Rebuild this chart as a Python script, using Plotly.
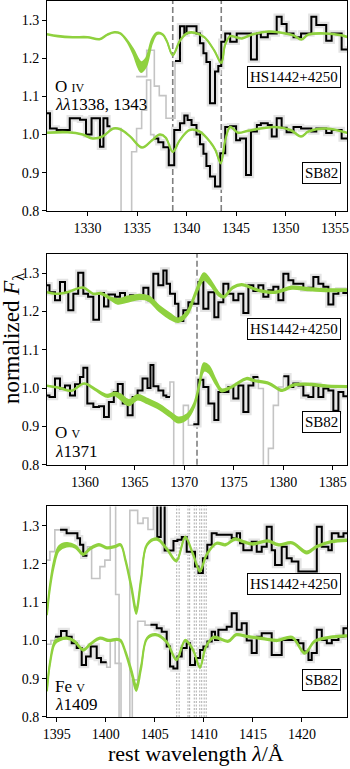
import plotly.graph_objects as go

FONT = "Liberation Serif"
GREEN = "#8fd13f"
BAND = "#e4e4e4"
MASKED = "#c4c4c4"

# ---------------- panel 1 : O IV 1338, 1343 ----------------
p1_xrange = [1325.9, 1356.2]
p1_xticks = [1330, 1335, 1340, 1345, 1350, 1355]
p1_lines = [1338.6, 1343.5]

p1_hs_edges = [1334.9, 1335.97, 1336.74, 1337.24, 1337.92, 1338.83, 1339.33, 1339.77, 1340.0, 1341.0,
               1341.35, 1341.7, 1342.0, 1342.36, 1342.87, 1343.2, 1343.5, 1343.9, 1344.4, 1345.06,
               1346.5, 1347.1, 1347.5, 1348.2, 1349.1, 1349.6, 1350.1, 1350.8, 1351.56, 1352.6,
               1353.1, 1354.1, 1354.65, 1355.66, 1356.3]
p1_hs_flux = [1.152, 1.221, 1.127, 1.102, 1.043, 1.193, 1.284, 1.265, 1.284, 1.265,
              1.239, 1.213, 1.19, 1.082, 1.165, 1.18, 1.243, 1.265, 1.243, 1.265,
              1.197, 1.265, 1.255, 1.265, 1.309, 1.29, 1.265, 1.255, 1.265, 1.309,
              1.287, 1.246, 1.265, 1.223]
p1_hs_masked = [(1334.9, 1338.83)]

p1_sb_edges = [1325.9, 1326.2, 1326.88, 1328.2, 1329.23, 1329.84, 1330.4, 1331.25, 1331.6, 1332.0,
               1332.3, 1333.38, 1334.45, 1334.95, 1335.46, 1335.96, 1336.37, 1336.7, 1337.14, 1337.65,
               1338.2, 1338.75, 1339.33, 1339.77, 1340.1, 1340.5, 1341.0, 1341.35, 1341.7, 1342.0,
               1342.36, 1342.87, 1343.4, 1343.9, 1344.4, 1345.0, 1345.4, 1346.0, 1346.5, 1347.1,
               1347.5, 1348.2, 1348.6, 1349.1, 1349.6, 1350.1, 1350.8, 1351.56, 1352.6, 1353.1,
               1354.1, 1354.65, 1355.66, 1356.3]
p1_sb_flux = [1.056, 1.016, 1.012, 1.043, 1.039, 1.0, 1.043, 0.968, 1.043, 1.022,
              1.016, 0.7, 0.955, 1.016, 1.064, 1.143, 1.0, 0.99, 0.98, 0.967,
              0.92, 1.012, 1.03, 1.05, 1.038, 1.025, 1.0, 0.975, 0.95, 0.918,
              0.89, 0.864, 0.951, 1.02, 1.022, 0.985, 0.99, 0.894, 1.008, 1.025,
              1.03, 1.025, 0.995, 1.043, 1.018, 1.006, 1.02, 1.016, 1.008, 1.016,
              1.004, 1.012, 0.99]
p1_sb_masked = [(1332.3, 1336.7)]

p1_hs_model_wave = [1325.9, 1327.0, 1328.5, 1330.0, 1331.2, 1332.0, 1332.7, 1333.3, 1334.0, 1334.6,
                    1335.4, 1335.9, 1336.5, 1337.0, 1337.6, 1338.0, 1338.6, 1339.3, 1340.0, 1340.8,
                    1341.8, 1342.8, 1343.5, 1343.9, 1344.4, 1345.0, 1345.6, 1346.6, 1348.3, 1350.0,
                    1350.8, 1351.6, 1352.3, 1354.0, 1355.6, 1356.3]
p1_hs_model = [1.263, 1.258, 1.255, 1.255, 1.25, 1.262, 1.268, 1.265, 1.245, 1.218,
               1.177, 1.189, 1.244, 1.265, 1.262, 1.245, 1.208, 1.245, 1.265, 1.267,
               1.255, 1.22, 1.188, 1.236, 1.258, 1.255, 1.252, 1.262, 1.27, 1.265,
               1.26, 1.249, 1.262, 1.265, 1.26, 1.255]
p1_hs_spread = [0.001, 0.001, 0.001, 0.001, 0.001, 0.001, 0.001, 0.001, 0.002, 0.006,
                0.013, 0.011, 0.006, 0.002, 0.001, 0.001, 0.001, 0.001, 0.001, 0.001,
                0.001, 0.001, 0.001, 0.001, 0.001, 0.001, 0.001, 0.001, 0.001, 0.001,
                0.001, 0.001, 0.001, 0.001, 0.001, 0.001]

p1_sb_model_wave = [1325.9, 1328.0, 1329.5, 1330.5, 1331.5, 1332.6, 1333.3, 1334.3, 1335.5, 1336.5,
                    1337.3, 1337.9, 1338.6, 1339.3, 1340.3, 1341.3, 1342.4, 1342.9, 1343.45, 1343.9,
                    1344.4, 1345.2, 1346.2, 1348.9, 1350.5, 1351.56, 1352.3, 1354.0, 1356.3]
p1_sb_model = [1.005, 1.006, 1.0, 0.99, 0.995, 1.016, 1.014, 0.995, 0.966, 0.985,
               1.0, 0.992, 0.955, 0.985, 1.012, 1.008, 0.98, 0.96, 0.925, 0.985,
               1.02, 1.005, 1.01, 1.02, 1.012, 0.995, 1.008, 1.016, 1.004]
p1_sb_spread = [0.001] * 29

# ---------------- panel 2 : O V 1371 ----------------
p2_xrange = [1356.15, 1386.45]
p2_xticks = [1360, 1365, 1370, 1375, 1380, 1385]
p2_lines = [1371.3]

p2_hs_edges = [1356.15, 1356.4, 1356.96, 1357.46, 1357.97, 1358.3, 1358.81, 1359.3, 1359.82, 1360.3,
               1360.83, 1361.4, 1361.91, 1362.35, 1363.02, 1363.52, 1364.03, 1364.53, 1364.87, 1365.38,
               1365.88, 1366.39, 1366.89, 1367.39, 1367.9, 1368.23, 1368.57, 1369.08, 1369.42, 1369.92,
               1370.43, 1370.93, 1371.44, 1371.94, 1372.45, 1373.05, 1373.46, 1373.96, 1374.47, 1374.97,
               1375.48, 1375.98, 1376.49, 1376.99, 1377.5, 1378.0, 1378.51, 1379.01, 1379.52, 1380.02,
               1380.53, 1381.03, 1381.54, 1382.04, 1382.55, 1383.05, 1383.56, 1384.06, 1384.57, 1385.07,
               1385.58, 1386.08, 1386.5]
p2_hs_flux = [1.268, 1.25, 1.229, 1.277, 1.25, 1.203, 1.246, 1.301, 1.246, 1.238,
              1.178, 1.248, 1.213, 1.244, 1.238, 1.248, 1.236, 1.242, 1.233, 1.238,
              1.262, 1.229, 1.298, 1.268, 1.307, 1.272, 1.246, 1.22, 1.175, 1.203,
              1.224, 1.22, 1.277, 1.207, 1.25, 1.185, 1.224, 1.272, 1.246, 1.229,
              1.246, 1.196, 1.268, 1.253, 1.268, 1.238, 1.255, 1.264, 1.229, 1.298,
              1.281, 1.272, 1.272, 1.259, 1.262, 1.29, 1.272, 1.264, 1.218, 1.246,
              1.255, 1.248]
p2_hs_masked = []

p2_sb_edges = [1356.15, 1356.4, 1356.96, 1357.46, 1357.97, 1358.47, 1358.98, 1359.48, 1359.82, 1360.22,
               1360.83, 1361.4, 1361.91, 1362.4, 1362.9, 1363.3, 1363.8, 1364.3, 1364.8, 1365.3,
               1365.8, 1366.3, 1366.6, 1366.9, 1367.4, 1367.9, 1368.2, 1368.57, 1368.95, 1369.92,
               1370.43, 1370.93, 1371.44, 1371.94, 1372.45, 1373.05, 1373.46, 1373.96, 1374.47, 1374.97,
               1375.48, 1375.98, 1376.49, 1376.99, 1377.5, 1378.0, 1378.51, 1379.01, 1379.52, 1380.02,
               1380.53, 1381.03, 1381.54, 1382.04, 1382.55, 1383.05, 1383.56, 1384.06, 1384.57, 1385.07,
               1385.58, 1386.08, 1386.5]
p2_sb_flux = [0.981, 0.977, 1.025, 0.999, 1.007, 0.981, 1.01, 1.029, 1.053, 0.96,
              0.951, 0.953, 0.925, 0.964, 0.99, 1.011, 0.96, 0.929, 0.977, 0.994,
              1.025, 1.0, 1.06, 1.005, 0.994, 0.981, 0.977, 1.016, 0.7, 0.955,
              0.903, 0.906, 1.022, 1.003, 0.96, 0.917, 0.99, 0.99, 1.003, 0.973,
              1.007, 0.938, 1.007, 1.029, 0.999, 0.7, 0.843, 0.955, 1.003, 1.031,
              1.003, 1.012, 1.007, 0.981, 0.977, 1.007, 0.977, 0.999, 0.994, 0.941,
              0.99, 0.979]
p2_sb_masked = [(1368.57, 1370.93), (1377.5, 1380.02)]

p2_hs_model_wave = [1356.15, 1357.0, 1358.2, 1359.8, 1360.8, 1361.6, 1362.6, 1363.3, 1364.3, 1365.5,
                    1366.4, 1367.5, 1368.6, 1369.4, 1370.3, 1371.2, 1372.0, 1372.6, 1373.5, 1374.0,
                    1374.9, 1375.8, 1377.5, 1379.2, 1380.9, 1382.5, 1384.6, 1386.5]
p2_hs_model = [1.25, 1.246, 1.25, 1.262, 1.246, 1.247, 1.233, 1.226, 1.232, 1.238,
               1.234, 1.207, 1.187, 1.177, 1.195, 1.25, 1.291, 1.277, 1.245, 1.238,
               1.262, 1.27, 1.255, 1.25, 1.262, 1.258, 1.255, 1.256]
p2_hs_spread = [0.001, 0.001, 0.001, 0.001, 0.001, 0.002, 0.003, 0.006, 0.007, 0.006,
                0.006, 0.007, 0.007, 0.005, 0.005, 0.005, 0.009, 0.007, 0.004, 0.002,
                0.002, 0.002, 0.002, 0.002, 0.003, 0.003, 0.003, 0.002]

p2_sb_model_wave = [1356.15, 1357.5, 1358.6, 1359.9, 1361.0, 1362.2, 1363.0, 1363.6, 1364.4, 1365.3,
                    1366.3, 1367.5, 1368.6, 1369.4, 1370.3, 1371.0, 1371.5, 1372.0, 1372.5, 1373.2,
                    1373.8, 1374.8, 1376.3, 1377.0, 1378.6, 1379.9, 1381.0, 1382.5, 1384.5, 1386.5]
p2_sb_model = [1.006, 1.0, 0.993, 1.012, 0.997, 0.98, 0.985, 0.977, 0.962, 0.976,
               0.966, 0.951, 0.931, 0.917, 0.926, 0.955, 1.005, 1.055, 1.049, 1.016,
               0.994, 1.003, 1.025, 1.02, 1.012, 0.994, 1.008, 1.01, 1.005, 1.004]
p2_sb_spread = [0.001, 0.001, 0.001, 0.001, 0.002, 0.003, 0.004, 0.007, 0.007, 0.006,
                0.006, 0.006, 0.006, 0.007, 0.006, 0.005, 0.005, 0.01, 0.009, 0.006,
                0.003, 0.002, 0.002, 0.002, 0.002, 0.002, 0.002, 0.002, 0.002, 0.002]

# ---------------- panel 3 : Fe V 1409 ----------------
p3_xrange = [1394.0, 1424.6]
p3_xticks = [1395, 1400, 1405, 1410, 1415, 1420]
p3_lines = [1407.23, 1407.48, 1408.38, 1408.55, 1409.02, 1409.23, 1409.58, 1409.78, 1410.03, 1410.24]

p3_hs_edges = [1394.0, 1394.3, 1394.8, 1395.33, 1396.0, 1397.1, 1397.37, 1397.7, 1398.12, 1398.55,
               1399.4, 1399.9, 1400.45, 1401.0, 1401.35, 1402.45, 1403.25, 1403.8, 1404.3, 1404.85,
               1405.25, 1405.6, 1406.0, 1406.9, 1407.3, 1407.75, 1408.25, 1409.1, 1409.45, 1409.9,
               1410.35, 1410.8, 1411.3, 1412.84, 1413.35, 1413.69, 1414.03, 1414.88, 1415.39, 1415.9,
               1416.41, 1416.92, 1417.26, 1417.94, 1418.45, 1418.96, 1419.64, 1421.52, 1422.03, 1422.7,
               1423.05, 1423.73, 1424.24, 1424.7]
p3_hs_flux = [1.21, 1.232, 1.289, 1.289, 1.28, 1.267, 1.25, 1.221, 1.245, 1.162,
              1.193, 1.21, 1.40, 1.12, 0.7, 1.34, 1.306, 1.32, 1.29, 1.40,
              1.27, 1.40, 1.235, 1.26, 1.263, 1.27, 1.232, 1.193, 1.176, 1.215,
              1.25, 1.28, 1.276, 1.267, 1.28, 1.254, 1.236, 1.258, 1.232, 1.245,
              1.297, 1.236, 1.197, 1.245, 1.215, 1.206, 1.18, 1.297, 1.245, 1.236,
              1.28, 1.271, 1.28]
p3_hs_masked = [(1394.0, 1395.33), (1398.12, 1404.85)]

p3_sb_edges = [1394.0, 1394.4, 1394.82, 1395.43, 1396.0, 1396.52, 1397.03, 1397.54, 1397.98, 1398.46,
               1399.07, 1399.51, 1400.09, 1400.45, 1400.95, 1401.55, 1402.7, 1403.25, 1404.0, 1404.55,
               1405.19, 1405.7, 1406.21, 1406.55, 1406.89, 1407.3, 1407.74, 1408.25, 1408.59, 1409.1,
               1409.61, 1409.95, 1410.36, 1410.8, 1411.14, 1411.48, 1412.33, 1412.84, 1413.35, 1413.86,
               1414.37, 1414.88, 1415.39, 1415.9, 1416.92, 1417.94, 1419.64, 1420.16, 1420.67, 1421.0,
               1421.52, 1422.03, 1422.54, 1423.05, 1423.73, 1424.24, 1424.7]
p3_sb_flux = [0.99, 1.0, 1.01, 1.025, 1.01, 0.993, 0.98, 0.936, 0.958, 0.984,
              0.954, 0.943, 0.93, 1.0, 0.94, 0.7, 0.897, 1.05, 1.04, 1.041,
              1.032, 1.023, 0.984, 0.932, 0.927, 0.958, 0.98, 0.993, 0.936, 0.954,
              0.975, 0.984, 0.997, 1.023, 1.001, 1.028, 1.036, 1.071, 1.028, 1.045,
              1.0, 0.967, 1.01, 1.019, 0.962, 1.001, 0.993, 0.971, 0.949, 0.967,
              1.028, 1.001, 0.993, 1.001, 1.01, 1.032]
p3_sb_masked = [(1394.0, 1394.82), (1400.09, 1404.55)]

p3_hs_model_wave = [1394.0, 1394.3, 1394.7, 1395.2, 1396.0, 1396.9, 1397.7, 1398.4, 1399.3, 1400.1,
                    1400.9, 1401.5, 1402.0, 1402.6, 1403.1, 1403.6, 1404.2, 1405.2, 1406.2, 1407.2,
                    1408.1, 1408.9, 1409.6, 1410.3, 1411.3, 1412.2, 1413.2, 1414.0, 1415.0, 1416.5,
                    1417.6, 1419.0, 1420.5, 1421.5, 1423.0, 1424.7]
p3_hs_model = [1.07, 1.14, 1.2, 1.24, 1.25, 1.245, 1.225, 1.24, 1.25, 1.242,
               1.245, 1.25, 1.21, 1.14, 1.077, 1.16, 1.25, 1.265, 1.24, 1.208,
               1.27, 1.225, 1.182, 1.225, 1.254, 1.25, 1.265, 1.258, 1.252, 1.26,
               1.25, 1.255, 1.23, 1.245, 1.258, 1.262]
p3_hs_spread = [0.004, 0.006, 0.007, 0.006, 0.005, 0.003, 0.002, 0.002, 0.002, 0.002,
                0.002, 0.002, 0.003, 0.005, 0.008, 0.005, 0.002, 0.002, 0.002, 0.002,
                0.002, 0.002, 0.003, 0.002, 0.002, 0.002, 0.002, 0.002, 0.002, 0.002,
                0.002, 0.002, 0.003, 0.002, 0.002, 0.002]

p3_sb_model_wave = [1394.0, 1394.3, 1394.8, 1395.3, 1396.0, 1396.8, 1397.7, 1398.4, 1399.4, 1400.3,
                    1401.1, 1401.5, 1402.0, 1402.6, 1403.1, 1403.6, 1404.2, 1405.1, 1406.2, 1407.2,
                    1408.1, 1408.9, 1409.6, 1410.2, 1411.0, 1412.5, 1413.3, 1414.5, 1416.0, 1417.5,
                    1419.0, 1420.3, 1421.3, 1422.8, 1424.7]
p3_sb_model = [0.87, 0.94, 0.995, 1.003, 1.006, 0.998, 0.975, 0.99, 1.006, 1.0,
               1.003, 1.0, 0.97, 0.92, 0.876, 0.93, 1.005, 1.015, 0.996, 0.95,
               1.0, 0.975, 0.93, 0.983, 1.008, 0.998, 1.015, 1.01, 1.005, 1.0,
               1.008, 0.967, 0.998, 1.008, 1.012]
p3_sb_spread = [0.003, 0.004, 0.004, 0.003, 0.002, 0.002, 0.002, 0.002, 0.002, 0.002,
                0.002, 0.002, 0.003, 0.005, 0.008, 0.005, 0.002, 0.002, 0.002, 0.002,
                0.002, 0.002, 0.002, 0.002, 0.002, 0.002, 0.002, 0.002, 0.002, 0.002,
                0.002, 0.002, 0.002, 0.002, 0.002]

y_range = [0.8, 1.35]
y_ticks = [0.8, 0.9, 1.0, 1.1, 1.2, 1.3]

panels = [
    dict(xrange=p1_xrange, xticks=p1_xticks, lines=p1_lines, dash="dash",
         spectra=[(p1_hs_edges, p1_hs_flux, p1_hs_masked), (p1_sb_edges, p1_sb_flux, p1_sb_masked)],
         models=[(p1_hs_model_wave, p1_hs_model, p1_hs_spread), (p1_sb_model_wave, p1_sb_model, p1_sb_spread)],
         ion="O <span style='font-size:12px'>IV</span>", wave="<i>λλ</i>1338, 1343",
         ion_y=0.595, wave_y=0.505, hs_y=0.638, sb_y=0.181, domain=[0.7068, 1.0]),
    dict(xrange=p2_xrange, xticks=p2_xticks, lines=p2_lines, dash="dash",
         spectra=[(p2_hs_edges, p2_hs_flux, p2_hs_masked), (p2_sb_edges, p2_sb_flux, p2_sb_masked)],
         models=[(p2_hs_model_wave, p2_hs_model, p2_hs_spread), (p2_sb_model_wave, p2_sb_model, p2_sb_spread)],
         ion="O <span style='font-size:12px'>V</span>", wave="<i>λ</i>1371",
         ion_y=0.152, wave_y=0.064, hs_y=0.642, sb_y=0.204, domain=[0.3522, 0.6468]),
    dict(xrange=p3_xrange, xticks=p3_xticks, lines=p3_lines, dash="dot",
         spectra=[(p3_hs_edges, p3_hs_flux, p3_hs_masked), (p3_sb_edges, p3_sb_flux, p3_sb_masked)],
         models=[(p3_hs_model_wave, p3_hs_model, p3_hs_spread), (p3_sb_model_wave, p3_sb_model, p3_sb_spread)],
         ion="Fe <span style='font-size:12px'>V</span>", wave="<i>λ</i>1409",
         ion_y=0.146, wave_y=0.058, hs_y=0.63, sb_y=0.177, domain=[0.0, 0.294]),
]


def runs(edges, flux, masked):
    # split the spectrum into contiguous masked / unmasked stretches
    n = len(flux)
    flags = [any(a <= edges[i] < b for a, b in masked) for i in range(n)]
    out = []
    s = 0
    for i in range(1, n + 1):
        if i == n or flags[i] != flags[s]:
            out.append((s, i, flags[s]))
            s = i
    return out


fig = go.Figure()

for k, p in enumerate(panels, start=1):
    xa = "x" if k == 1 else f"x{k}"
    ya = "y" if k == 1 else f"y{k}"
    bands, greys, blacks = [], [], []
    for edges, flux, masked in p["spectra"]:
        n = len(flux)
        for s, e, m in runs(edges, flux, masked):
            xs = list(edges[s:e + 1])
            ys = list(flux[s:e]) + [flux[e - 1]]
            if m:
                if s > 0:
                    xs = [edges[s]] + xs
                    ys = [flux[s - 1]] + ys
                if e < n:
                    xs = xs + [edges[e]]
                    ys = ys + [flux[e]]
                greys.append((xs, ys))
            else:
                bands.append((xs, ys))
                blacks.append((xs, ys))
    for xs, ys in bands:
        fig.add_trace(go.Scatter(x=xs, y=ys, mode="lines", line=dict(color=BAND, width=6.5, shape="hv"),
                                 xaxis=xa, yaxis=ya, hoverinfo="skip"))
    for xs, ys in greys:
        fig.add_trace(go.Scatter(x=xs, y=ys, mode="lines", line=dict(color=MASKED, width=1.6, shape="hv"),
                                 xaxis=xa, yaxis=ya, hoverinfo="skip"))
    for xs, ys in blacks:
        fig.add_trace(go.Scatter(x=xs, y=ys, mode="lines", line=dict(color="black", width=2, shape="hv"),
                                 xaxis=xa, yaxis=ya, hoverinfo="skip"))
    for wave, mid, spread in p["models"]:
        hi = [m + d for m, d in zip(mid, spread)]
        lo = [m - d for m, d in zip(mid, spread)]
        fig.add_trace(go.Scatter(x=wave, y=hi, mode="lines", line=dict(color=GREEN, width=1.8, shape="spline"),
                                 xaxis=xa, yaxis=ya, hoverinfo="skip"))
        fig.add_trace(go.Scatter(x=wave, y=lo, mode="lines", line=dict(color=GREEN, width=1.8, shape="spline"),
                                 fill="tonexty", fillcolor=GREEN, xaxis=xa, yaxis=ya, hoverinfo="skip"))

    for w in p["lines"]:
        if p["dash"] == "dash":
            ln = dict(color="#808080", width=1.6, dash="6px,3px")
        else:
            ln = dict(color="#8a8a8a", width=0.7, dash="2px,1.5px")
        fig.add_shape(type="line", x0=w, x1=w, y0=0, y1=1, xref=xa, yref=f"{ya} domain", line=ln, layer="below")

    axis_common = dict(showline=True, mirror=True, linecolor="black", linewidth=1, ticks="outside",
                       ticklen=4, tickcolor="black", showgrid=False, zeroline=False,
                       tickfont=dict(family=FONT, size=14, color="black"))
    fig.update_layout(**{
        ("xaxis" if k == 1 else f"xaxis{k}"): dict(domain=[0, 1], anchor=ya, range=p["xrange"],
                                                   tickvals=p["xticks"], **axis_common),
        ("yaxis" if k == 1 else f"yaxis{k}"): dict(domain=p["domain"], anchor=xa, range=y_range,
                                                   tickvals=y_ticks, tickformat=".1f", **axis_common),
    })

    txt = dict(family=FONT, size=17, color="black")
    fig.add_annotation(x=0.021, y=p["ion_y"], xref=f"{xa} domain", yref=f"{ya} domain", text=p["ion"],
                       showarrow=False, xanchor="left", yanchor="middle", font=txt)
    fig.add_annotation(x=0.021, y=p["wave_y"], xref=f"{xa} domain", yref=f"{ya} domain", text=p["wave"],
                       showarrow=False, xanchor="left", yanchor="middle", font=txt)
    for name, yy in (("HS1442+4250", p["hs_y"]), ("SB82", p["sb_y"])):
        fig.add_annotation(x=0.98, y=yy, xref=f"{xa} domain", yref=f"{ya} domain", text=name,
                           showarrow=False, xanchor="right", yanchor="middle", bgcolor="white",
                           bordercolor="black", borderwidth=1, borderpad=2,
                           font=dict(family=FONT, size=15, color="black"))

fig.add_annotation(x=0.498, y=-0.0505, xref="paper", yref="paper", text="rest wavelength <i>λ</i>/Å",
                   showarrow=False, xanchor="center", yanchor="middle",
                   font=dict(family=FONT, size=22, color="black"))
fig.add_annotation(x=-0.113, y=0.528, xref="paper", yref="paper", text="normalized <i>F</i><sub>λ</sub>",
                   showarrow=False, textangle=-90, xanchor="center", yanchor="middle",
                   font=dict(family=FONT, size=23, color="black"))

fig.update_layout(width=350, height=769, margin=dict(l=47, r=3, t=1, b=52),
                  plot_bgcolor="white", paper_bgcolor="white", showlegend=False,
                  font=dict(family=FONT, color="black"))

fig.write_html("out.html", config={"displayModeBar": False},
               post_script="document.body.style.margin='0px';")
